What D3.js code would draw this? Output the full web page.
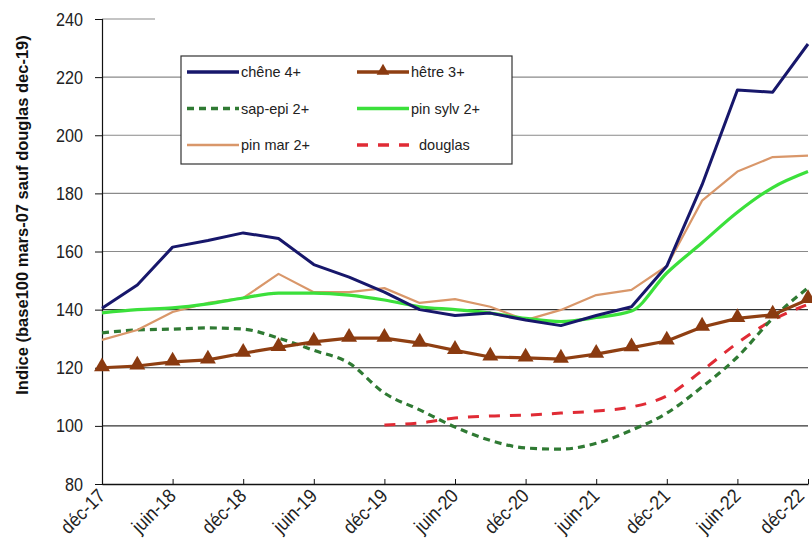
<!DOCTYPE html>
<html><head><meta charset="utf-8">
<script src="https://cdn.jsdelivr.net/npm/d3@7"></script>
<style>body{margin:0;background:#fff}svg{display:block}text{font-family:"Liberation Sans",Arial,sans-serif}</style>
</head><body><svg id="c" width="812" height="553"></svg>
<script>
const periods = ["déc-17","mars-18","juin-18","sept-18","déc-18","mars-19","juin-19","sept-19","déc-19","mars-20","juin-20","sept-20","déc-20","mars-21","juin-21","sept-21","déc-21","mars-22","juin-22","sept-22","déc-22"];
const tickLabels = ["déc-17","juin-18","déc-18","juin-19","déc-19","juin-20","déc-20","juin-21","déc-21","juin-22","déc-22"];
const yTicks = [80,100,120,140,160,180,200,220,240];
const chene   = [140.5,148.5,161.5,163.8,166.4,164.5,155.5,151.2,146,140,138,138.8,136.4,134.5,138,141,155,183,215.6,214.8,231.4];
const hetre   = [120,120.6,122,122.7,125,127,128.9,130.2,130.2,128.5,126,123.7,123.4,123,124.7,126.9,129.2,134,137,138.2,143.5];
const sapepi  = [132,133,133.3,133.7,133.3,130.2,126,121.6,111.3,105.5,99.6,95,92.4,92,94,98.5,104.4,113.4,123.7,137,147.5];
const pinsylv = [138.9,140,140.6,142,144,145.7,145.7,145,143.3,141,140,138.8,137,135.9,137.3,139.5,152.6,163,173.5,182,187.5];
const pinmar  = [129.6,133,139.2,142.3,144,152.3,146,146,147.4,142.3,143.6,141,136.4,139.9,145,146.8,155,177.5,187.5,192.5,193];
const douglas = [null,null,null,null,null,null,null,null,100.3,101,102.7,103.4,103.7,104.4,105.1,106.5,110.3,119,128.5,136.4,141.8];
const seriesNames = ["chêne 4+","hêtre 3+","sap-epi 2+","pin sylv 2+","pin mar 2+","douglas"];
const yLabel = "Indice (base100 mars-07 sauf douglas dec-19)";

const styles = {
  "chêne 4+":  {color:"#17176b", width:3, dash:null, curve:d3.curveLinear},
  "hêtre 3+":  {color:"#8f3f12", width:3.2, dash:null, marker:true, curve:d3.curveLinear},
  "sap-epi 2+":{color:"#2f7a33", width:3.2, dash:"7,5", curve:d3.curveMonotoneX},
  "pin sylv 2+":{color:"#3be03b", width:3.2, dash:null, curve:d3.curveMonotoneX},
  "pin mar 2+":{color:"#d9976a", width:2.2, dash:null, curve:d3.curveLinear},
  "douglas":   {color:"#e02b35", width:3, dash:"11,10", curve:d3.curveMonotoneX}
};
const data = [chene,hetre,sapepi,pinsylv,pinmar,douglas];

const svg = d3.select("#c");
const m = {l:102, r:4, t:19, b:69};
const W = 812, H = 553;
const x = d3.scalePoint().domain(periods).range([m.l, W-m.r]);
const y = d3.scaleLinear().domain([80,240]).range([H-m.b, m.t]);

// gridlines
svg.append("g").selectAll("line").data(yTicks.filter(d=>d>80)).join("line")
  .attr("x1", m.l).attr("x2", W-m.r).attr("y1", d=>y(d)).attr("y2", d=>y(d))
  .attr("stroke", d=> d>=160 ? "#8a8a8a" : "#333").attr("stroke-width",1.2);

// title area background (covers top gridline like reference)
svg.append("rect").attr("x",155).attr("y",0).attr("width",W-155).attr("height",24).attr("fill","#fff");

// axes
const yAxis = d3.axisLeft(y).tickValues(yTicks).tickSize(7);
const gy = svg.append("g").attr("transform",`translate(${m.l},0)`).call(yAxis);
gy.select(".domain").attr("stroke","#111").attr("stroke-width",1.2);
gy.selectAll(".tick line").attr("stroke","#111");
gy.selectAll("text").attr("font-size",19).attr("fill","#222")
  .attr("x",0).attr("transform","translate(-19,0) scale(0.85,1)");

const xAxis = d3.axisBottom(x).tickValues(tickLabels).tickSize(-5).tickSizeOuter(0);
const gx = svg.append("g").attr("transform",`translate(0,${H-m.b})`).call(xAxis);
gx.select(".domain").attr("stroke","#111").attr("stroke-width",1.4);
gx.selectAll(".tick line").attr("stroke","#111");
gx.selectAll("text").attr("font-size",19.5).attr("fill","#222")
  .attr("text-anchor","end").attr("x",0).attr("y",0).attr("dy",0)
  .attr("transform",(d,i)=>`translate(${i===tickLabels.length-1?-3:4},13) rotate(-45) scale(0.9,1)`);

// y label
svg.append("text").attr("transform",`translate(28,215) rotate(-90)`)
  .attr("text-anchor","middle").attr("font-size",16.5).attr("font-weight","bold")
  .attr("fill","#111").text(yLabel);

// lines
const drawOrder = [5,2,4,3,0,1];
drawOrder.forEach(i=>{
  const name = seriesNames[i], s = styles[name];
  const pts = periods.map((p,j)=>({p, v:data[i][j]}));
  const line = d3.line().defined(d=>d.v!=null).x(d=>x(d.p)).y(d=>y(d.v)).curve(s.curve);
  svg.append("path").datum(pts).attr("d", line)
    .attr("fill","none").attr("stroke",s.color).attr("stroke-width",s.width)
    .attr("stroke-dasharray",s.dash).attr("stroke-linejoin","round");
  if (s.marker) {
    svg.append("g").selectAll("path").data(pts.filter(d=>d.v!=null)).join("path")
      .attr("d", d3.symbol().type(d3.symbolTriangle).size(110))
      .attr("transform", d=>`translate(${x(d.p)},${y(d.v)-1})`)
      .attr("fill","#8a3a10");
  }
});

// legend
const lg = svg.append("g");
lg.append("rect").attr("x",181).attr("y",56).attr("width",331).attr("height",108)
  .attr("fill","#fff").attr("stroke","#333").attr("stroke-width",1.2);
seriesNames.forEach((name,i)=>{
  const col = i%2, row = Math.floor(i/2);
  const lx = col===0 ? 187 : 357, ly = 72 + row*36.5;
  const s = styles[name];
  lg.append("line").attr("x1",lx).attr("x2",lx+52).attr("y1",ly).attr("y2",ly)
    .attr("stroke",s.color).attr("stroke-width",s.width+0.5).attr("stroke-dasharray",s.dash);
  if (s.marker) lg.append("path").attr("d",d3.symbol().type(d3.symbolTriangle).size(70))
    .attr("transform",`translate(${lx+26},${ly-1})`).attr("fill","#8a3a10");
  lg.append("text").attr("x",lx+(name==="douglas"?62:54)).attr("y",ly+5).attr("font-size",14.5).attr("fill","#222").text(name);
});
</script></body></html>
